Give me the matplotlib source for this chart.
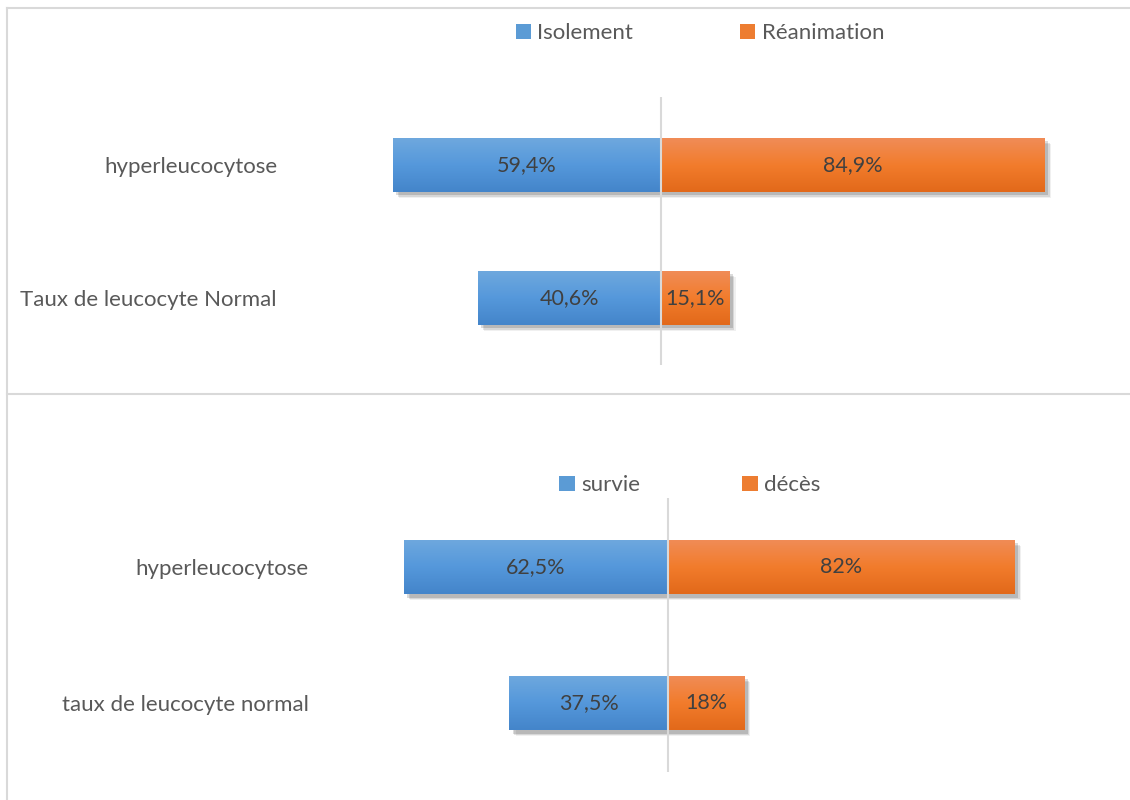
import numpy as np
import matplotlib
matplotlib.use("Agg")
import matplotlib.pyplot as plt
from matplotlib import patheffects as pe
from matplotlib.patches import Patch
from matplotlib.lines import Line2D
from matplotlib.colors import LinearSegmentedColormap

plt.rcParams['font.family'] = ['Lato', 'DejaVu Sans']

# ---- data ----
categories_top = ["Taux de leucocyte Normal", "hyperleucocytose"]
isolement = [40.6, 59.4]
reanimation = [15.1, 84.9]
labels_top = ("Isolement", "Réanimation")

categories_bottom = ["taux de leucocyte normal", "hyperleucocytose"]
survie = [37.5, 62.5]
deces = [18.0, 82.0]
labels_bottom = ("survie", "décès")

BLUE = "#5B9BD5"
ORANGE = "#ED7D31"
BLUE_GRAD = ["#4485CA", "#5598DB", "#6EA8DE"]
ORANGE_GRAD = ["#E2691A", "#F27C2C", "#F08C57"]
TEXT = "#595959"
VALTEXT = "#404040"
GRID = "#D9D9D9"

W, H = 1130, 800
fig = plt.figure(figsize=(W / 100, H / 100), dpi=100)


def fx(px):
    return px / W


def fy(py):
    return 1 - py / H


def fmt(v):
    s = f"{v:.1f}".replace(".", ",")
    if s.endswith(",0"):
        s = s[:-2]
    return s + "%"


shadow = [pe.SimplePatchShadow(offset=(o, -o), shadow_rgbFace="#000000", alpha=a)
          for o, a in ((4.5, 0.06), (3.5, 0.10), (2.5, 0.14))] + [pe.Normal()]


def gradient_fill(ax, patch, stops):
    cmap = LinearSegmentedColormap.from_list("g", stops)
    x0, y0 = patch.get_x(), patch.get_y()
    w, h = patch.get_width(), patch.get_height()
    grad = np.linspace(0, 1, 64).reshape(-1, 1)
    im = ax.imshow(grad, extent=[x0, x0 + w, y0, y0 + h], origin="lower",
                   cmap=cmap, aspect="auto", interpolation="bicubic", zorder=3)
    im.set_clip_path(patch)


def panel(rect, cats, left_vals, right_vals, names, ylim, bar_h,
          legend_center, colspacing):
    ax = fig.add_axes(rect)
    y = np.arange(len(cats))
    b1 = ax.barh(y, [-v for v in left_vals], height=bar_h, color=BLUE,
                 zorder=2, path_effects=shadow, label=names[0])
    b2 = ax.barh(y, right_vals, height=bar_h, color=ORANGE,
                 zorder=2, path_effects=shadow, label=names[1])
    for p in b1:
        gradient_fill(ax, p, BLUE_GRAD)
    for p in b2:
        gradient_fill(ax, p, ORANGE_GRAD)
    for yi, lv, rv in zip(y, left_vals, right_vals):
        ax.text(-lv / 2, yi, fmt(lv), ha="center", va="center",
                fontsize=15.5, color=VALTEXT, zorder=5)
        ax.text(rv / 2, yi, fmt(rv), ha="center", va="center",
                fontsize=15.5, color=VALTEXT, zorder=5)
    ax.axvline(0, color=GRID, lw=1.5, zorder=4)
    ax.set_xlim(-85, 100)
    ax.set_ylim(*ylim)
    ax.set_yticks(y)
    ax.set_yticklabels(cats, fontsize=16, color=TEXT)
    ax.tick_params(axis="y", length=0, pad=0)
    ax.set_xticks([])
    for s in ax.spines.values():
        s.set_visible(False)
    ax.patch.set_visible(False)
    handles = [Patch(facecolor=BLUE, edgecolor="none"),
               Patch(facecolor=ORANGE, edgecolor="none")]
    fig.legend(handles, names, loc="center", ncol=2,
               bbox_to_anchor=(fx(legend_center[0]), fy(legend_center[1])),
               frameon=False, fontsize=16, labelcolor=TEXT,
               handlelength=0.68, handleheight=0.68, handletextpad=0.3,
               columnspacing=colspacing)
    return ax


# top panel
panel([fx(277), fy(365), fx(1113 - 277), 268 / H], categories_top,
      isolement, reanimation, labels_top, (-0.504, 1.511), 0.406,
      (700, 33), 4.8)

# bottom panel
panel([fx(308.5), fy(772), fx(1091 - 308.5), 274 / H], categories_bottom,
      survie, deces, labels_bottom, (-0.507, 1.507), 0.40,
      (690, 485), 4.6)

# panel frames
for xs, ys in (([fx(7), fx(7)], [fy(8), fy(800)]),
               ([fx(7), 1.0], [fy(8), fy(8)]),
               ([fx(7), 1.0], [fy(394), fy(394)])):
    fig.add_artist(Line2D(xs, ys, color=GRID, lw=1.5))

fig.savefig("out.png", dpi=100, facecolor="white")
